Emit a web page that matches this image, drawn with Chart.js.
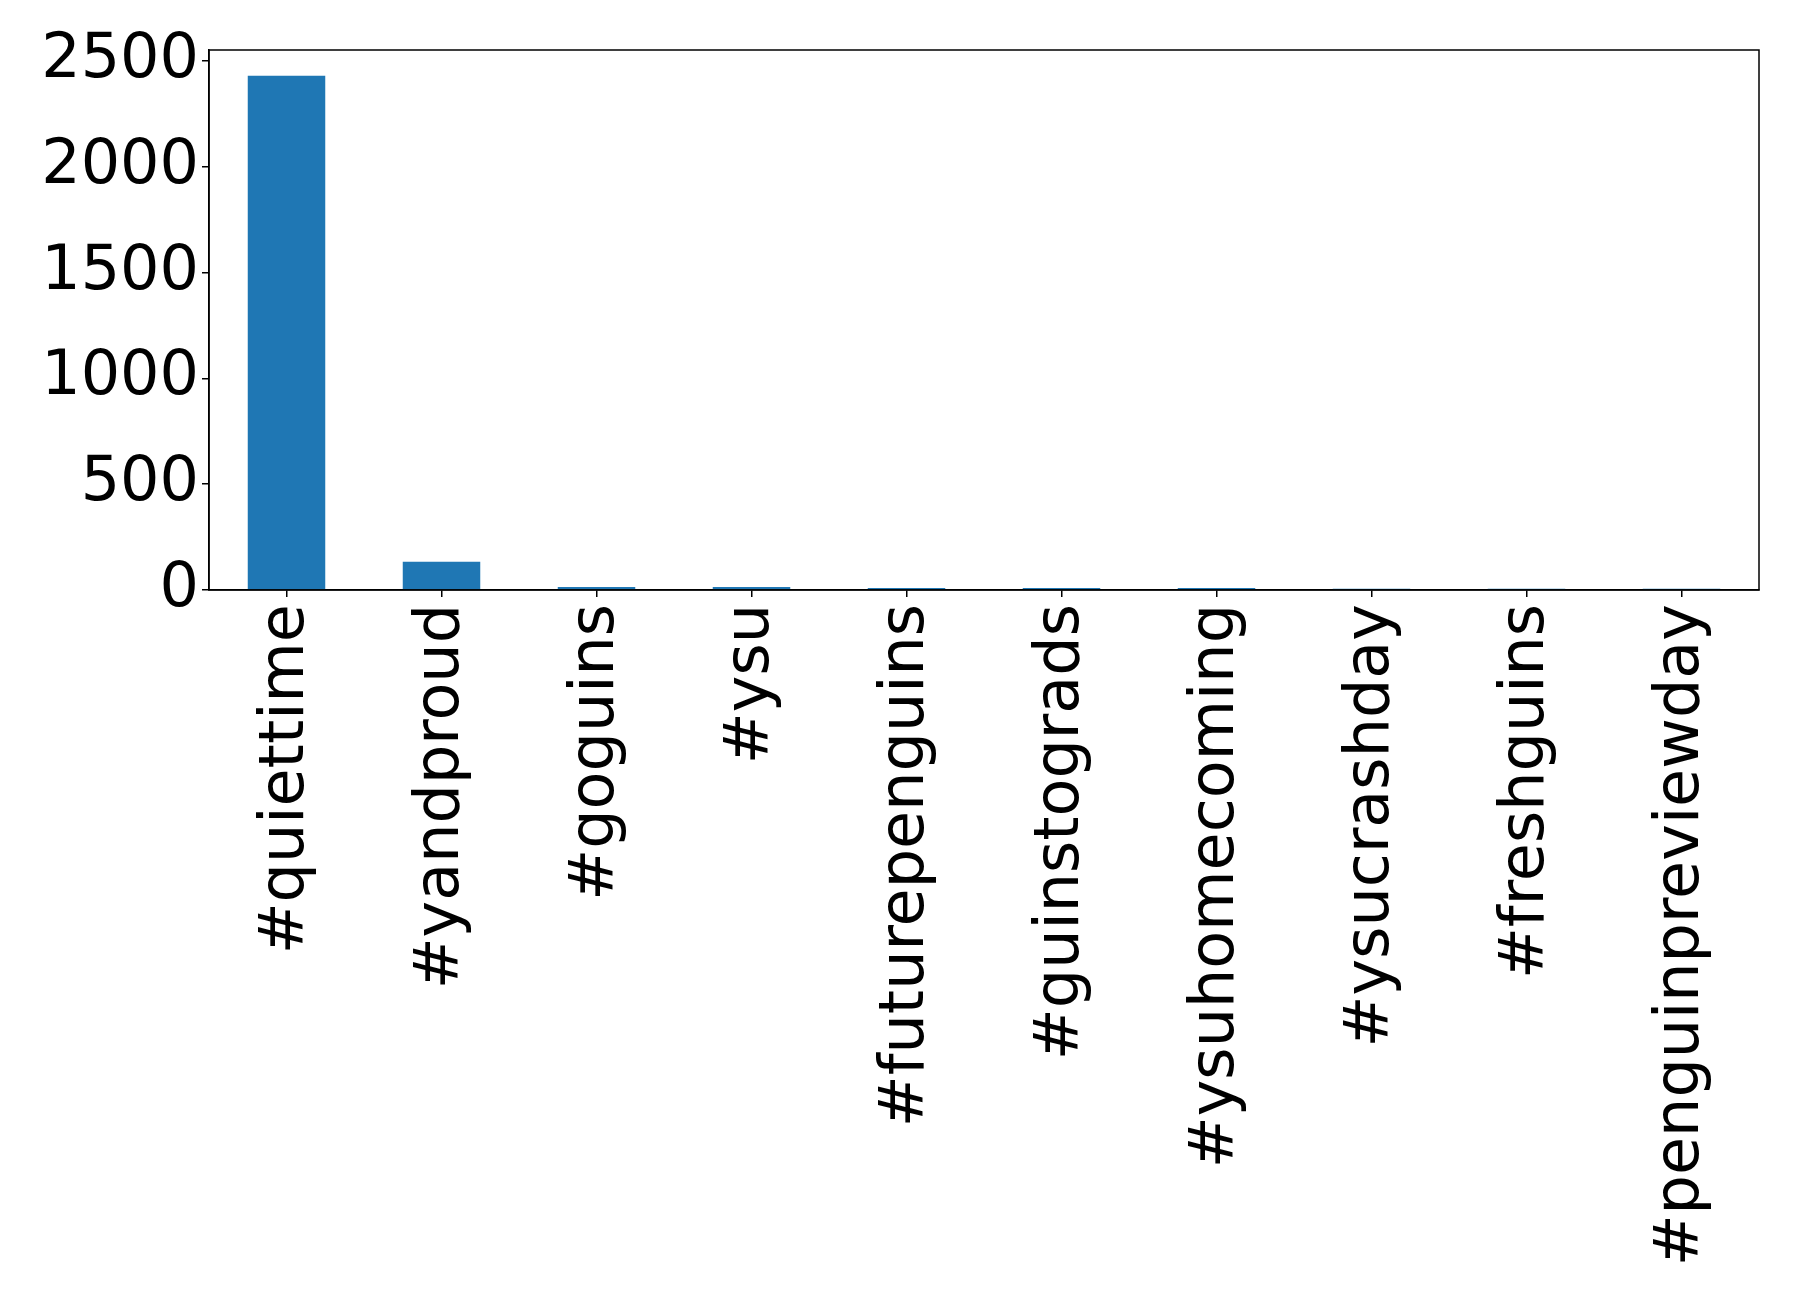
<!DOCTYPE html>
<html>
<head>
<meta charset="utf-8">
<script src="https://cdn.jsdelivr.net/npm/chart.js@4"></script>
<style>
  html, body { margin: 0; padding: 0; background: #fff; }
  #wrap { width: 1798px; height: 1307px; position: relative; }
</style>
</head>
<body>
<div id="wrap"><canvas id="hashChart"></canvas></div>
<script>
const hashtags = ["#quiettime", "#yandproud", "#goguins", "#ysu", "#futurepenguins",
  "#guinstograds", "#ysuhomecoming", "#ysucrashday", "#freshguins", "#penguinpreviewday"];
const counts = [2430, 133, 14, 14, 9, 9, 9, 6, 6, 6];
const yTicks = [0, 500, 1000, 1500, 2000, 2500];

// box around the plot area, like matplotlib spines
const frameBox = {
  id: "frameBox",
  afterDatasetsDraw(chart) {
    const a = chart.chartArea;
    const c = chart.ctx;
    c.save();
    c.strokeStyle = "#000";
    c.lineWidth = 1.5;
    c.strokeRect(a.left, a.top, a.right - a.left, a.bottom - a.top);
    c.restore();
  },
};

const ctx = document.getElementById("hashChart").getContext("2d");
const hashChart = new Chart(ctx, {
  type: "bar",
  data: {
    labels: hashtags,
    datasets: [
      {
        data: counts,
        backgroundColor: "#1f77b4",
        barPercentage: 0.5,
        categoryPercentage: 1.0,
      },
    ],
  },
  options: {
    responsive: true,
    maintainAspectRatio: false,
    animation: false,
    layout: { padding: { top: 50, left: 0, right: 39, bottom: 0 } },
    plugins: { legend: { display: false }, tooltip: { enabled: false } },
    scales: {
      x: {
        offset: true,
        afterFit(axis) {
          axis.height = 717; // labels are long, axis gets the lower part of the canvas
        },
        grid: { display: true, offset: false, drawOnChartArea: false, tickLength: 7, color: "#000", lineWidth: 1.5 },
        border: { display: true, color: "#000", width: 1.5 },
        ticks: {
          color: "#000",
          font: { family: "DejaVu Sans", size: 62 },
          minRotation: 90,
          maxRotation: 90,
          autoSkip: false,
          padding: 7,
        },
      },
      y: {
        min: 0,
        max: 2551.5,
        afterFit(axis) {
          axis.width = 209;
        },
        afterBuildTicks(axis) {
          axis.ticks = yTicks.map((v) => ({ value: v }));
        },
        grid: { display: true, drawOnChartArea: false, tickLength: 7, color: "#000", lineWidth: 1.5 },
        border: { display: true, color: "#000", width: 1.5 },
        ticks: {
          color: "#000",
          font: { family: "DejaVu Sans", size: 62 },
          padding: 3,
          callback: (v) => String(v),
        },
      },
    },
  },
  plugins: [frameBox],
});
</script>
</body>
</html>
